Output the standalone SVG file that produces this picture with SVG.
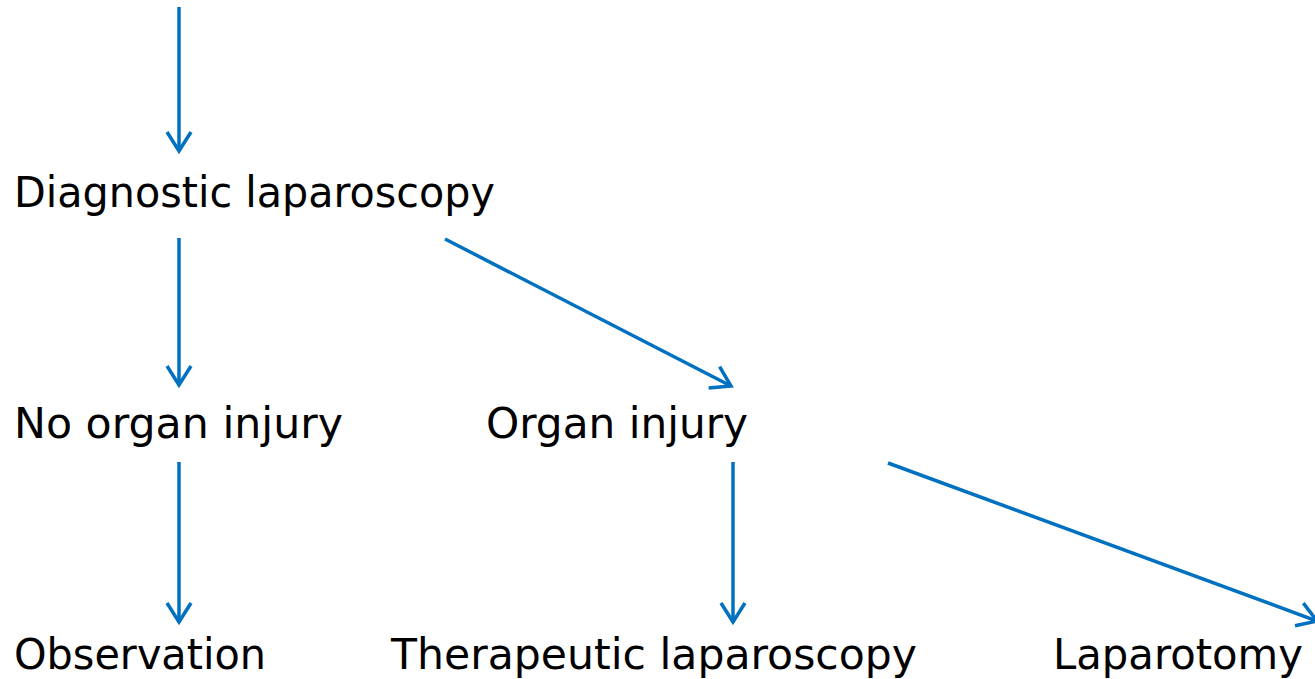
<svg xmlns="http://www.w3.org/2000/svg" width="1315" height="679" viewBox="0 0 1315 679">
<style>
text{font-family:"DejaVu Sans","Liberation Sans",sans-serif;font-size:43px;fill:#000}
.c line{stroke:#0070C0;stroke-width:3.5;fill:none}
</style>
<defs>
<marker id="ah" markerUnits="userSpaceOnUse" viewBox="-24 -14 28 28" markerWidth="28" markerHeight="28" refX="0" refY="0" orient="auto" overflow="visible">
<path d="M-19,-12 L0,0 L-19,12" fill="none" stroke="#0070C0" stroke-width="3.5"/>
</marker>
</defs>
<rect width="1315" height="679" fill="#fff"/>
<g id="n1"><text x="14" y="207" textLength="481" lengthAdjust="spacingAndGlyphs">Diagnostic laparoscopy</text></g>
<g id="n2"><text x="14" y="438" textLength="329" lengthAdjust="spacingAndGlyphs">No organ injury</text></g>
<g id="n3"><text x="486" y="438" textLength="262" lengthAdjust="spacingAndGlyphs">Organ injury</text></g>
<g id="n4"><text x="14" y="669" textLength="252" lengthAdjust="spacingAndGlyphs">Observation</text></g>
<g id="n5"><text x="391" y="669" textLength="526" lengthAdjust="spacingAndGlyphs">Therapeutic laparoscopy</text></g>
<g id="n6"><text x="1053" y="669" textLength="250" lengthAdjust="spacingAndGlyphs">Laparotomy</text></g>
<g id="connectors" class="c">
<line x1="179" y1="7" x2="179" y2="151" marker-end="url(#ah)"/>
<line x1="179" y1="238" x2="179" y2="385" marker-end="url(#ah)"/>
<line x1="445" y1="239" x2="731" y2="386" marker-end="url(#ah)"/>
<line x1="179" y1="462" x2="179" y2="622" marker-end="url(#ah)"/>
<line x1="733" y1="462" x2="733" y2="622" marker-end="url(#ah)"/>
<line x1="888" y1="463" x2="1317" y2="621" marker-end="url(#ah)"/>
</g>
</svg>
